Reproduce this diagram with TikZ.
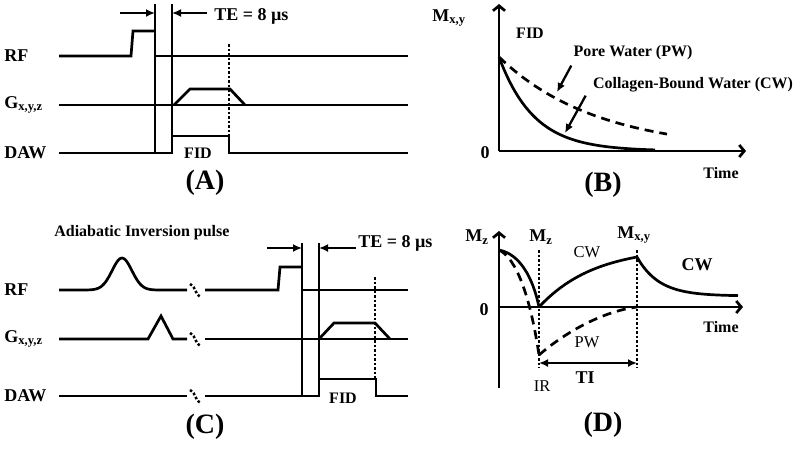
\documentclass[tikz,border=0pt]{standalone}
\usepackage{fontspec}
\setmainfont{Liberation Serif}
\usetikzlibrary{arrows.meta}

\begin{document}
\begin{tikzpicture}[x=1pt,y=-1pt,
   line width=2.7pt,
   lbl/.style={font=\fontsize{18}{21}\selectfont\bfseries,inner sep=0pt},
   note/.style={font=\fontsize{16}{18}\selectfont\bfseries,inner sep=0pt},
   plain/.style={font=\fontsize{16.5}{18}\selectfont,inner sep=0pt},
   panel/.style={font=\fontsize{28}{32}\selectfont\bfseries,inner sep=0pt},
   axis/.style={-{Straight Barb[length=5pt,width=12pt]}},
   tip/.style={-{Latex[length=9pt,width=8pt]}},
   dotline/.style={dotted,line width=2.5pt},
   dashline/.style={dash pattern=on 9pt off 6pt}]
  \useasboundingbox (0,0) rectangle (800,448);
  % (A) UTE sequence
  \node[lbl,anchor=west] (rfA) at (3,56) {RF};
  \node[lbl,anchor=west] (gA) at (3,105) {G\textsubscript{x,y,z}};
  \node[lbl,anchor=west] (dawA) at (3,153) {DAW};
  \coordinate (leftA) at (155,13);
  \coordinate (rightA) at (172,13);
  \draw (59,56) -- (131,56) -- (133,31) -- (155,31);
  \draw (155,4) -- (155,153);
  \draw (172,4) -- (172,153);
  \draw (155,56) -- (408,56);
  \draw (59,105) -- (408,105);
  \draw (174,105) -- (190,89) -- (230,89) -- (245,105);
  \draw (59,153) -- (172,153) -- (172,136) -- (229,136) -- (229,153) -- (408,153);
  \draw[dotline] (229,44) -- (229,136);
  \coordinate (startA) at (120,13);
  \coordinate (endA) at (207,13);
  \draw[tip,line width=2.3pt] (startA) -- (leftA);
  \draw[tip,line width=2.3pt] (endA) -- (rightA);
  \node[lbl,anchor=west] (teA) at (213,16) {TE = 8 µs};
  \node[note] (fidA) at (198,153) {FID};
  \node[panel] (pA) at (205,183) {(A)};
  % (B) FID decay
  \coordinate (oB) at (499,151);
  \draw[axis] (oB) -- (499,4);
  \draw[axis] (oB) -- (746,151);
  \node[lbl] (mB) at (449,18) {M\textsubscript{x,y}};
  \node[note] (fidB) at (530,33) {FID};
  \node[lbl] (zB) at (485,153) {0};
  \node[note] (timeB) at (721,173) {Time};
  \node[panel] (pB) at (603,185) {(B)};
  \draw[dashline] plot[domain=499:667,samples=60] (\x,{151-94*exp(-(\x-499)/98)});
  \draw plot[domain=499:655,samples=60] (\x,{151-94*exp(-(\x-499)/35)});
  \node[note] (pw) at (633,53) {Pore Water (PW)};
  \node[note] (cw) at (693,85) {Collagen-Bound Water (CW)};
  \coordinate (pwend) at (557,92);
  \coordinate (cwend) at (565,133);
  \draw[tip,line width=2.3pt] ([shift={(-1,4)}]pw.south west) -- (pwend);
  \draw[tip,line width=2.3pt] ([shift={(-6,2)}]cw.south west) -- (cwend);
  % (C) IR-UTE sequence
  \node[note,anchor=west] (adi) at (53,233) {Adiabatic Inversion pulse};
  \node[lbl,anchor=west] (rfC) at (3,290) {RF};
  \node[lbl,anchor=west] (gC) at (3,339) {G\textsubscript{x,y,z}};
  \node[lbl,anchor=west] (dawC) at (3,396) {DAW};
  \draw plot[domain=59:187,samples=80] (\x,{290-32*exp(-((\x-122)/14)^2)});
  \draw (205,290) -- (278,290) -- (280,267) -- (302,267);
  \draw (302,290) -- (408,290);
  \draw (302,243) -- (302,396);
  \draw (319,243) -- (319,396);
  \draw (59,339) -- (148,339) -- (161,316) -- (173,339) -- (187,339);
  \draw (205,339) -- (408,339);
  \draw (319,339) -- (334,323) -- (375,323) -- (390,339);
  \draw (59,396) -- (187,396);
  \draw (205,396) -- (319,396) -- (319,379) -- (376,379) -- (376,396) -- (408,396);
  \draw[dotline] (375,277) -- (375,379);
  \foreach \y in {290,339,396}
    \draw[dotline] (190,\y-6) .. controls (197,\y-2) and (194,\y+4) .. (201,\y+7);
  \coordinate (leftC) at (302,248);
  \coordinate (rightC) at (319,248);
  \coordinate (startC) at (267,248);
  \coordinate (endC) at (356,248);
  \draw[tip,line width=2.3pt] (startC) -- (leftC);
  \draw[tip,line width=2.3pt] (endC) -- (rightC);
  \node[lbl,anchor=west] (teC) at (357,243) {TE = 8 µs};
  \node[note] (fidC) at (343,398) {FID};
  \node[panel] (pC) at (205,427) {(C)};
  % (D) inversion recovery
  \coordinate (oD) at (499,307);
  \draw[axis] (499,388) -- (499,231);
  \draw[axis] (oD) -- (743,307);
  \node[lbl] (mzD) at (477,237) {M\textsubscript{z}};
  \node[lbl] (mzIR) at (541,237) {M\textsubscript{z}};
  \node[lbl] (mxyD) at (634,235) {M\textsubscript{x,y}};
  \node[lbl] (zD) at (484,310) {0};
  \node[plain] (cwD) at (587,252) {CW};
  \node[lbl] (cwR) at (697,265) {CW};
  \node[note] (timeD) at (721,327) {Time};
  \node[plain] (pwD) at (587,342) {PW};
  \node[lbl] (tiD) at (585,378) {TI};
  \node[plain] (irD) at (542,386) {IR};
  \node[panel] (pD) at (603,425) {(D)};
  \coordinate (ir) at (539,363);
  \coordinate (ti) at (637,363);
  \draw[dotline] (539,250) -- (539,368);
  \draw[dotline] (637,250) -- (637,368);
  \draw[{Latex[length=9pt,width=8pt]}-{Latex[length=9pt,width=8pt]},line width=2.3pt] (ir) -- (ti);
  \draw (499,250) .. controls (520,254) and (533,278) .. (539,307);
  \draw (539,307) .. controls (568,276) and (600,264) .. (637,257);
  \draw plot[domain=637:738,samples=50] (\x,{296-39*exp(-(\x-637)/22)});
  \draw[dashline] (499,250) .. controls (516,258) and (530,295) .. (539,355);
  \draw[dashline] (539,355) .. controls (568,330) and (605,311) .. (637,307);
\end{tikzpicture}
\end{document}
